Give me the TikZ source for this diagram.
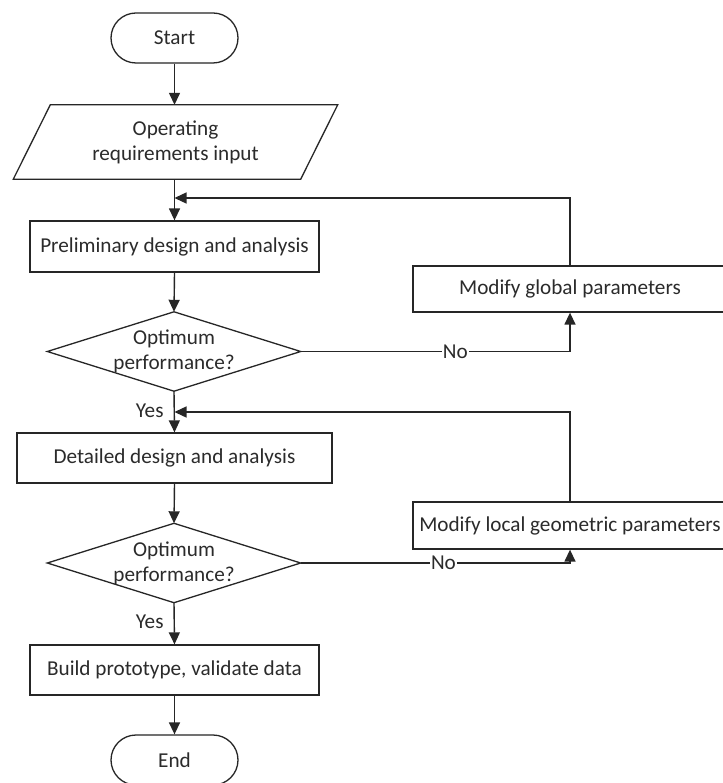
\documentclass[tikz,border=0pt]{standalone}
\usepackage{fontspec}
\setmainfont{Carlito}
\usetikzlibrary{arrows.meta}
\definecolor{ink}{HTML}{262626}
\definecolor{txt}{HTML}{2B2B2B}
\begin{document}
\begin{tikzpicture}[x=1pt,y=-1pt,
  every node/.style={font=\fontsize{21.2}{25}\selectfont, text=txt, inner sep=0pt},
  box/.style={draw=ink, line width=1.3pt, rectangle, align=center},
  term/.style={draw=ink, line width=1.3pt, rounded corners=25pt, minimum width=127pt, minimum height=50pt},
  shell/.style={minimum width=253pt, minimum height=79pt, align=center},
  lbl/.style={fill=white, inner sep=1pt},
  arr/.style={draw=ink, line width=1.4pt, -{Triangle[length=12pt,width=11pt]}},
  ln/.style={draw=ink, line width=1.3pt}]

\useasboundingbox (0,0) rectangle (722,783);
\fill[white] (0,0) rectangle (722,783);

% main column
\node[term] (start) at (174.5,38) {Start};
\node[minimum width=287pt, minimum height=74pt, align=center] (inp) at (175.5,142) {Operating\\requirements input};
\draw[ln] ([xshift=18.5pt]inp.north west) -- ([xshift=18.5pt]inp.north east)
  -- ([xshift=-18.5pt]inp.south east) -- ([xshift=-18.5pt]inp.south west) -- cycle;
\node[box, minimum width=289pt, minimum height=51pt] (pre) at (174.5,246.5) {Preliminary design and analysis};
\node[shell] (q1) at (174,351.5) {Optimum\\performance?};
\draw[ln] (q1.north) -- (q1.east) -- (q1.south) -- (q1.west) -- cycle;
\node[box, minimum width=315pt, minimum height=50pt] (det) at (174.5,458) {Detailed design and analysis};
\node[shell] (q2) at (174,563) {Optimum\\performance?};
\draw[ln] (q2.north) -- (q2.east) -- (q2.south) -- (q2.west) -- cycle;
\node[box, minimum width=289pt, minimum height=50pt] (bld) at (174.5,670) {Build prototype, validate data};
\node[term] (end) at (174.5,760) {End};

% feedback column
\node[box, minimum width=314pt, minimum height=46pt] (glob) at (570,289) {Modify global parameters};
\node[box, minimum width=314pt, minimum height=47pt] (loc) at (570,525.5) {Modify local geometric parameters};

\coordinate (m1) at (174.5,198);
\coordinate (m2) at (174.5,412);

% connectors
\draw[arr] (start.south) -- (start.south |- inp.north);
\draw[arr] (pre.north |- inp.south) -- (pre.north);
\draw[arr] (glob.north) |- (m1);
\draw[arr] (pre.south) -- (q1.north);
\draw[arr] (q1.east) -| node[lbl, pos=0.287] {No} (glob.south);
\draw[arr] (q1.south) -- node[left=10pt, pos=0.48] {Yes} (det.north);
\draw[arr] (loc.north) |- (m2);
\draw[arr] (det.south) -- (q2.north);
\draw[arr] (q2.east) -| node[lbl, pos=0.265] {No} (loc.south);
\draw[arr] (q2.south) -- node[left=10pt, pos=0.45] {Yes} (bld.north);
\draw[arr] (bld.south) -- (end.north);
\end{tikzpicture}
\end{document}
